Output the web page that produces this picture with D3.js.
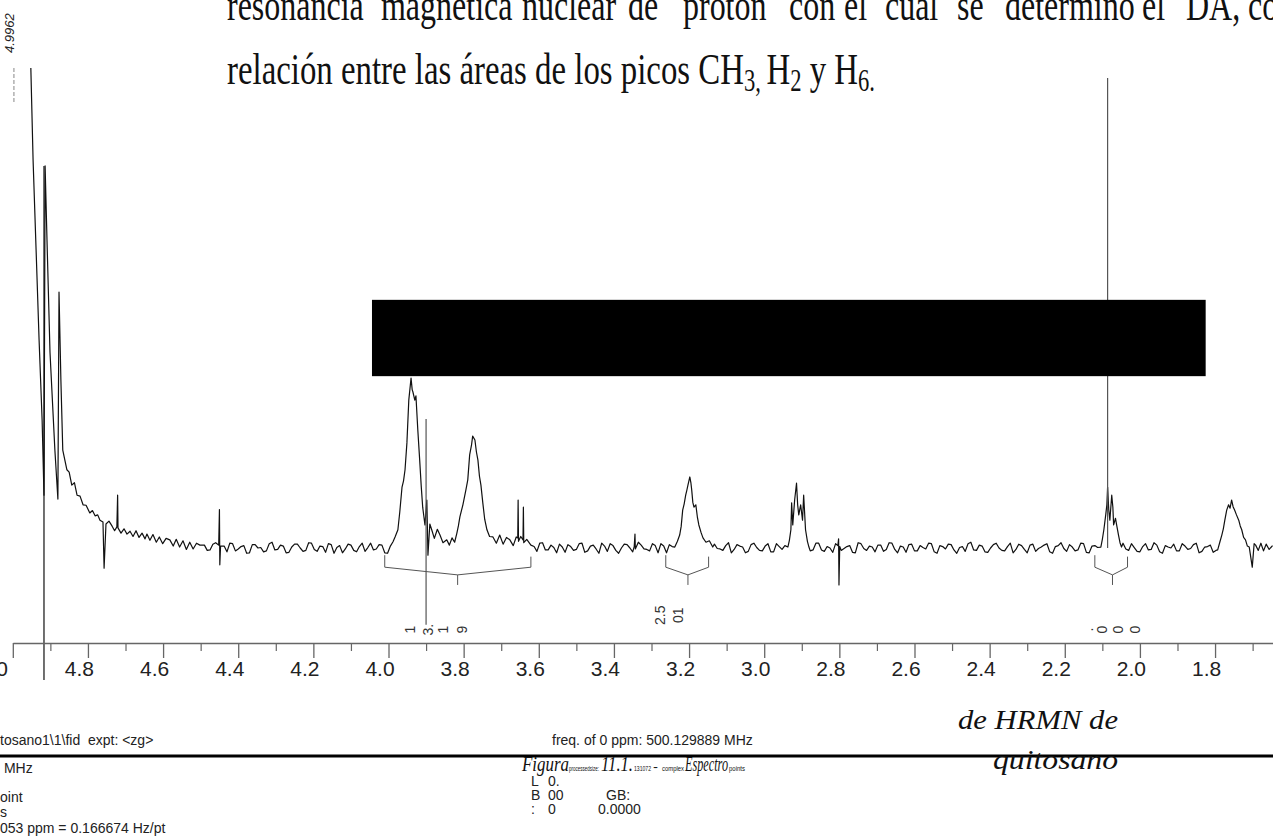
<!DOCTYPE html>
<html>
<head>
<meta charset="utf-8">
<script src="https://cdn.jsdelivr.net/npm/d3@7"></script>
<style>
  body { margin: 0; background: #fff; }
  svg { display: block; }
  text { white-space: pre; }
</style>
</head>
<body>
<svg width="1273" height="839"></svg>
<script>
const W = 1273, H = 839;
const svg_ = d3.select('svg');

const SANS = '"Liberation Sans", Arial, sans-serif';
const SERIF = '"Liberation Serif", "Times New Roman", serif';

// eje en ppm
const majorTicks = [5.0, 4.8, 4.6, 4.4, 4.2, 4.0, 3.8, 3.6, 3.4, 3.2, 3.0, 2.8, 2.6, 2.4, 2.2, 2.0, 1.8];
const tickLabels = ["5.0", "4.8", "4.6", "4.4", "4.2", "4.0", "3.8", "3.6", "3.4", "3.2", "3.0", "2.8", "2.6", "2.4", "2.2", "2.0", "1.8"];
const minorTicks = [4.9, 4.7, 4.5, 4.3, 4.1, 3.9, 3.7, 3.5, 3.3, 3.1, 2.9, 2.7, 2.5, 2.3, 2.1, 1.9, 1.7];

// espectro: [ppm, intensidad]
const waterRegion = [
  [4.952,100],[4.946,80.8],[4.938,62.1],[4.930,43.3],[4.922,26.7],[4.917,11.0],
  [4.914,79.6],[4.909,64.2],[4.901,40.8],[4.888,20.4],[4.880,10.2],
  [4.877,53.3],[4.872,35.0],[4.867,20.4],[4.862,18.5],[4.856,16.3],[4.850,15.8],[4.843,13.1],
  [4.836,13.6],[4.829,11.0],[4.821,10.8],[4.813,9.0],[4.805,8.9],[4.795,7.3],[4.788,7.8],
  [4.781,6.7],[4.774,6.9],[4.768,5.8],[4.760,5.4],[4.757,-4.2],[4.752,5.0],[4.744,5.6],
  [4.736,4.6],[4.729,3.6],[4.723,4.4],[4.721,11.0],[4.720,4.2],[4.712,3.1],[4.704,4.0],
  [4.696,2.9],[4.688,3.5],[4.680,2.4],[4.672,3.6],[4.664,2.2],[4.656,3.1],[4.648,1.9],
  [4.643,2.9],[4.635,1.6],[4.627,2.8],[4.618,1.2],[4.610,2.3],[4.601,0.9],[4.592,2.0],
  [4.582,1.7],[4.573,0.4],[4.565,1.8],[4.556,0.2],[4.547,1.5],[4.538,-0.3],[4.529,1.2],
  [4.520,-0.2],[4.511,1.0],[4.502,0.6]
];
const spike445 = [[4.452,0.6],[4.450,8.0],[4.449,-3.5],[4.447,0.4]];
const peaks39 = [
  [3.988,1.3],[3.982,2.4],[3.975,3.8],[3.970,7.5],[3.964,12.7],[3.960,14.0],[3.956,16.3],
  [3.951,21.9],[3.946,30.8],[3.940,35.4],[3.937,33.0],[3.935,32.5],[3.930,30.8],[3.927,31.7],
  [3.922,24.6],[3.917,18.3],[3.913,13.0],[3.909,8.5],[3.903,4.8],[3.898,10.0],[3.895,-1.5],
  [3.890,5.0],[3.885,3.8],[3.878,2.0],[3.870,3.9],[3.863,2.7],[3.855,1.1],[3.845,1.7],
  [3.838,0.6],[3.831,2.1],[3.824,1.2],[3.818,3.1],[3.814,4.6],[3.810,6.5],[3.802,9.0],
  [3.794,12.1],[3.789,14.2],[3.784,19.4],[3.779,21.5],[3.776,23.3],[3.770,22.5],[3.766,20.0],
  [3.762,18.3],[3.758,15.0],[3.754,13.1],[3.749,9.4],[3.744,6.0],[3.738,3.8],[3.731,2.4],
  [3.722,2.3],[3.713,1.0],[3.704,2.7],[3.695,0.8],[3.686,2.2],[3.677,1.7],[3.668,0.5],
  [3.660,2.3],[3.656,2.1],[3.655,10.0],[3.654,1.4],[3.648,2.4],[3.642,1.7],[3.641,8.5],
  [3.640,1.1],[3.632,1.8],[3.621,0.6]
];
const spike334 = [[3.346,0.3],[3.344,2.9],[3.343,-0.2]];
const peak32 = [
  [3.238,0.2],[3.231,1.4],[3.225,2.7],[3.221,4.5],[3.217,7.9],[3.213,9.2],[3.209,11.0],
  [3.206,12.0],[3.203,13.1],[3.198,14.8],[3.195,13.5],[3.193,12.1],[3.190,9.5],[3.187,8.5],
  [3.182,9.0],[3.178,6.5],[3.174,4.8],[3.168,3.2],[3.163,2.1],[3.155,1.2],[3.146,1.5],[3.137,0.2]
];
const peak29 = [
  [2.937,0.2],[2.933,1.6],[2.929,3.8],[2.927,9.4],[2.924,4.8],[2.919,10.0],[2.914,13.5],
  [2.911,9.0],[2.908,6.9],[2.903,9.0],[2.898,5.8],[2.895,11.0],[2.890,3.8],[2.885,1.4],[2.881,0.2]
];
const spike280 = [[2.804,0.5],[2.802,1.9],[2.801,-7.7],[2.799,0.3]];
const peak207 = [
  [2.104,0.2],[2.100,1.8],[2.096,3.8],[2.091,6.9],[2.088,9.0],[2.086,12.7],[2.083,8.0],
  [2.080,5.8],[2.075,11.0],[2.072,8.5],[2.070,4.8],[2.065,6.2],[2.062,4.8],[2.057,2.7],
  [2.053,1.1],[2.049,0.2]
];
const peak173 = [
  [1.793,-0.4],[1.787,1.3],[1.782,2.7],[1.778,4.0],[1.774,5.8],[1.769,7.9],[1.764,9.0],
  [1.760,8.3],[1.756,10.0],[1.752,8.6],[1.748,7.9],[1.743,6.9],[1.737,5.8],[1.733,4.6],
  [1.729,3.8],[1.724,2.2],[1.719,1.7],[1.714,0.4],[1.709,0.2],[1.701,-4.0],[1.696,0.9],
  [1.692,0.6],[1.685,-0.5],[1.678,1.0],[1.671,-0.6],[1.664,0.8],[1.656,-0.3],[1.647,0.5]
];

// ruido de linea base: dos lecturas entrelazadas, cada 0.015 ppm desde 4.49 y desde 4.4825
const baselineStarts = [4.49, 4.4825];
const baselineStep = 0.015;
const baselineNoiseA = [
  0.6,-0.4,1.1,0.2,-0.8,0.9,-0.2,0.5,-1.0,0.7,0.1,-0.6,1.2,-0.3,0.4,-0.9,0.8,0.0,-0.5,1.0,
  -0.7,0.3,0.9,-1.1,0.5,-0.2,0.6,-0.8,1.0,0.1,-0.4,0.7,-1.0,0.4,0.2,-0.6,1.1,-0.3,0.5,-0.9,
  0.8,-0.1,-0.7,0.9,0.3,-1.2,0.6,0.0,-0.5,1.0,-0.8,0.4,0.7,-0.6,0.2,-1.0,0.9,-0.2,0.5,-0.7,
  1.1,-0.4,0.1,0.8,-0.9,0.3,-0.3,1.0,-0.6,0.6,-1.1,0.4,0.9,-0.5,0.0,0.7,-0.8,1.2,-0.2,-0.6,
  0.5,0.9,-1.0,0.3,-0.4,0.8,-0.7,0.2,1.0,-0.9,0.6,-0.1,-0.5,1.1,-0.3,0.4,-1.0,0.7,0.1,-0.6,
  0.9,-0.8,0.3,0.5,-1.1,0.8,-0.2,0.6,-0.4,1.0,-0.7,0.0,0.9,-0.5,0.3,-0.9,1.1,-0.1,0.4,-0.8,
  0.6,-0.3,1.0,-1.0,0.2,0.7,-0.6,0.5,-0.2,0.9,-1.1,0.3,0.8,-0.4,0.1,-0.7,1.2,-0.5,0.4,-0.9,
  0.7,0.0,-0.6,1.0,-0.3,0.5,-1.0,0.8,-0.1,0.6,-0.8,0.3,1.1,-0.7,0.2,-0.4,0.9,-1.0,0.5,-0.2,
  0.7,-0.9,0.4,1.0,-0.5,0.1,-0.8,0.9,-0.3,0.6,-1.1,0.2,0.8,-0.6,0.4,-0.1,1.0,-0.7,0.3,-0.9,
  0.5,0.8,-0.4,-1.0,0.6,0.2,-0.7
];
const baselineNoiseB = [
  -0.5,0.8,-0.9,0.4,1.0,-0.6,0.3,-1.1,0.7,0.0,-0.8,0.9,-0.4,0.6,-1.0,0.2,0.8,-0.7,1.1,-0.3,
  0.4,-0.9,0.7,0.1,-1.0,0.8,-0.5,0.3,-0.7,1.0,-0.2,0.6,-1.1,0.5,0.9,-0.4,0.0,-0.8,1.0,-0.6,
  0.3,0.9,-1.0,0.2,-0.5,0.7,-0.9,1.1,-0.3,0.4,-0.7,0.8,-1.1,0.5,0.1,-0.6,0.9,-0.8,0.3,1.0,
  -0.4,0.6,-1.0,0.2,0.7,-0.5,0.9,-0.9,0.4,-0.2,1.0,-0.7,0.5,-1.1,0.8,0.0,-0.6,0.6,-0.3,0.9,
  -1.0,0.4,0.7,-0.8,0.1,-0.4,1.1,-0.6,0.3,-0.9,0.8,-0.2,0.5,-1.0,0.7,0.2,-0.7,1.0,-0.5,0.4,
  -0.8,0.9,-0.3,0.6,-1.1,0.0,0.8,-0.6,1.0,-0.4,0.3,-0.9,0.7,-0.1,0.5,-1.0,0.9,-0.5,0.2,0.6,
  -0.7,1.1,-0.3,0.4,-0.9,0.8,-0.6,0.1,1.0,-0.8,0.5,-0.2,0.7,-1.1,0.3,0.9,-0.4,0.6,-0.8,0.0,
  1.0,-0.5,0.3,-1.0,0.8,-0.3,0.6,-0.7,0.2,0.9,-1.1,0.5,-0.1,0.7,-0.6,1.0,-0.9,0.4,0.1,-0.5,
  0.8,-1.0,0.6,-0.2,0.9,-0.7,0.3,-0.4,1.1,-0.8,0.5,0.0,-0.6,0.9,-0.3,0.7,-1.0,0.2,0.6,-0.5,
  0.8,-0.9,0.4,0.1,-0.7,1.0,-0.3
];

// lineas verticales: ppm, intensidad arriba, intensidad abajo
const markerLines = [
  [4.917, 79.6, -27.5],
  [3.900, 26.9, -16.0],
  [2.086, 97.9, 0.0]
];
const dashMark = [4.997, 100, 92.9];
const peakLabel = { ppm: 4.9962, text: "4.9962" };

// integrales: desde, hasta, centro (ppm)
const integrals = [
  [4.010, 3.621, 3.816],
  [3.262, 3.148, 3.203],
  [2.120, 2.033, 2.073]
];
const integralText = [
  [3.943, "1", -17.0], [3.895, "3.", -17.0], [3.855, "1", -17.0], [3.805, "9", -17.0],
  [3.278, "2.5", -14.0], [3.230, "01", -14.0],
  [2.139, ".", -17.0], [2.102, "0", -17.0], [2.059, "0", -17.0], [2.014, "0", -17.0]
];

// barra negra (ppm desde/hasta, intensidad arriba/abajo)
const redactBox = [4.044, 1.825, 51.7, 35.8];

// textos
const line1Words = ["resonancia", "magnética", "nuclear", "de", "protón", "con", "el", "cual", "se", "determinó", "el", "DA,", "co"];
const line1X = [227, 381, 522, 628, 683, 789, 844, 885, 957, 1005, 1142, 1186, 1248];
const leftFooter = ["tosano1\\1\\fid  expt: <zg>", " MHz", "oint", "s", "053 ppm = 0.166674 Hz/pt"];
const freqText = "freq. of 0 ppm: 500.129889 MHz";
const figuraParts = [
  ["Figura", "big", 522, 47], ["processedsize:", "tiny", 569, 30], ["11.1.", "big", 601, 32],
  ["131072", "tiny", 634, 17], ["-", "mid", 653, 5], ["complex", "tiny", 662, 22],
  ["Espectro", "big", 685, 43], ["points", "tiny", 729, 16]
];
const paramRows = [
  ["L", "0.", ""],
  ["B", "00", "GB:"],
  [":", "0", "0.0000"]
];
const captionRight = ["de HRMN de", "quitosano"];

// escalas
const x = d3.scaleLinear().domain([5.0, 1.6]).range([12.8, 1290.2]);
const y = d3.scaleLinear().domain([0, 100]).range([548, 68]);

// ---------- texto superior ----------
const top1 = svg_.append("g").attr("transform", "translate(0,20) scale(1,1.4)");
top1.selectAll("text")
  .data(line1Words)
  .join("text")
  .attr("x", (d, i) => line1X[i])
  .attr("y", 0)
  .attr("font-family", SERIF)
  .attr("font-size", 32)
  .attr("fill", "#111")
  .text(d => d);

const top2 = svg_.append("g").attr("transform", "translate(227,84) scale(1,1.4)")
  .append("text")
  .attr("font-family", SERIF)
  .attr("font-size", 32)
  .attr("fill", "#111")
  .attr("textLength", 648)
  .attr("lengthAdjust", "spacingAndGlyphs");
top2.append("tspan").text("relación entre las áreas de los picos CH");
top2.append("tspan").attr("font-size", 22).attr("dy", 5).text("3, ");
top2.append("tspan").attr("dy", -5).text("H");
top2.append("tspan").attr("font-size", 22).attr("dy", 5).text("2");
top2.append("tspan").attr("dy", -5).text(" y H");
top2.append("tspan").attr("font-size", 22).attr("dy", 5).text("6.");

// ---------- espectro ----------
const segments = [waterRegion, spike445, peaks39, spike334, peak32, peak29, spike280, peak207, peak173];
const windows = segments.map(s => [d3.min(s, d => d[0]), d3.max(s, d => d[0])]);
const baseline = [baselineNoiseA, baselineNoiseB]
  .flatMap((arr, k) => arr.map((v, i) => [baselineStarts[k] - i * baselineStep, v]))
  .filter(p => !windows.some(w => p[0] >= w[0] - 0.003 && p[0] <= w[1] + 0.003));
const trace = baseline.concat(...segments).sort((a, b) => b[0] - a[0]);

svg_.append("path")
  .datum(trace)
  .attr("fill", "none")
  .attr("stroke", "#111")
  .attr("stroke-width", 1.2)
  .attr("stroke-linejoin", "round")
  .attr("d", d3.line().x(d => x(d[0])).y(d => y(d[1])));

svg_.append("g")
  .selectAll("line")
  .data(markerLines)
  .join("line")
  .attr("x1", d => x(d[0])).attr("x2", d => x(d[0]))
  .attr("y1", d => y(d[1])).attr("y2", d => y(d[2]))
  .attr("stroke", (d, i) => i === 0 ? "#111" : "#555")
  .attr("stroke-width", 1.2);

svg_.append("line")
  .attr("x1", x(dashMark[0])).attr("x2", x(dashMark[0]))
  .attr("y1", y(dashMark[1])).attr("y2", y(dashMark[2]))
  .attr("stroke", "#888")
  .attr("stroke-dasharray", "4,2");

svg_.append("text")
  .attr("transform", `translate(${x(peakLabel.ppm)},53) rotate(-90)`)
  .attr("font-family", SANS)
  .attr("font-style", "italic")
  .attr("font-size", 13)
  .attr("fill", "#222")
  .text(peakLabel.text);

// barra negra
svg_.append("rect")
  .attr("x", x(redactBox[0]))
  .attr("y", y(redactBox[2]))
  .attr("width", x(redactBox[1]) - x(redactBox[0]))
  .attr("height", y(redactBox[3]) - y(redactBox[2]))
  .attr("fill", "#000");

// integrales
const intG = svg_.append("g").attr("fill", "none").attr("stroke", "#555").attr("stroke-width", 1);
intG.selectAll("path")
  .data(integrals)
  .join("path")
  .attr("d", d => {
    const a = x(d[0]), b = x(d[1]), c = x(d[2]);
    return `M${a},${y(-1.5)}V${y(-4.0)}L${c},${y(-5.6)}L${b},${y(-4.0)}V${y(-1.8)}M${c},${y(-5.6)}V${y(-7.7)}`;
  });

svg_.append("g")
  .selectAll("text")
  .data(integralText)
  .join("text")
  .attr("transform", d => `translate(${x(d[0]) + 5},${y(d[2])}) rotate(-90)`)
  .attr("text-anchor", "middle")
  .attr("font-family", SANS)
  .attr("font-size", 14)
  .attr("fill", "#333")
  .text(d => d[1]);

// ---------- eje ----------
const axisY = 643;
const axisG = svg_.append("g")
  .attr("transform", `translate(0,${axisY})`)
  .call(d3.axisBottom(x).tickValues(majorTicks).tickSize(15).tickSizeOuter(0)
    .tickFormat((d, i) => tickLabels[i]));
axisG.select(".domain").attr("stroke", "#666").attr("stroke-width", 1.5);
axisG.selectAll(".tick line").attr("stroke", "#666").attr("stroke-width", 1.3);
axisG.selectAll(".tick text")
  .attr("x", (d, i) => i === 0 ? -20 : -9)
  .attr("font-family", SANS)
  .attr("font-size", 21)
  .attr("fill", "#222");

const minorG = svg_.append("g")
  .attr("transform", `translate(0,${axisY})`)
  .call(d3.axisBottom(x).tickValues(minorTicks).tickSize(8).tickSizeOuter(0).tickFormat(""));
minorG.select(".domain").remove();
minorG.selectAll(".tick line").attr("stroke", "#666").attr("stroke-width", 1.2);

// ---------- pie ----------
const footY = [745, 773, 802, 817, 833];
svg_.append("g")
  .selectAll("text")
  .data(leftFooter)
  .join("text")
  .attr("x", 0)
  .attr("y", (d, i) => footY[i])
  .attr("font-family", SANS)
  .attr("font-size", 14)
  .attr("fill", "#222")
  .text(d => d);

svg_.append("text")
  .attr("x", 552).attr("y", 745)
  .attr("font-family", SANS).attr("font-size", 14).attr("fill", "#222")
  .text(freqText);

svg_.append("line")
  .attr("x1", 0).attr("x2", W)
  .attr("y1", 756).attr("y2", 756)
  .attr("stroke", "#000").attr("stroke-width", 3);

const partStyle = {
  big: { family: SERIF, size: 20, italic: true },
  tiny: { family: SANS, size: 7, italic: false },
  mid: { family: SANS, size: 13, italic: false }
};
svg_.append("g")
  .selectAll("text")
  .data(figuraParts)
  .join("text")
  .attr("x", d => d[2])
  .attr("y", 771)
  .attr("font-family", d => partStyle[d[1]].family)
  .attr("font-size", d => partStyle[d[1]].size)
  .attr("font-style", d => partStyle[d[1]].italic ? "italic" : "normal")
  .attr("textLength", d => d[3])
  .attr("lengthAdjust", "spacingAndGlyphs")
  .attr("fill", "#111")
  .text(d => d[0]);

const paramX = [531, 548, 598];
const paramY = [786, 800, 814];
paramRows.forEach((row, r) => {
  row.forEach((t, c) => {
    svg_.append("text")
      .attr("x", c === 2 && r === 1 ? 606 : paramX[c])
      .attr("y", paramY[r])
      .attr("font-family", SANS).attr("font-size", 14).attr("fill", "#222")
      .text(t);
  });
});

svg_.append("text")
  .attr("x", 958).attr("y", 729)
  .attr("font-family", SERIF).attr("font-style", "italic").attr("font-size", 27)
  .attr("textLength", 160).attr("lengthAdjust", "spacingAndGlyphs")
  .attr("fill", "#111")
  .text(captionRight[0]);
svg_.append("text")
  .attr("x", 993).attr("y", 769)
  .attr("font-family", SERIF).attr("font-style", "italic").attr("font-size", 27)
  .attr("textLength", 125).attr("lengthAdjust", "spacingAndGlyphs")
  .attr("fill", "#111")
  .text(captionRight[1]);
</script>
</body>
</html>
